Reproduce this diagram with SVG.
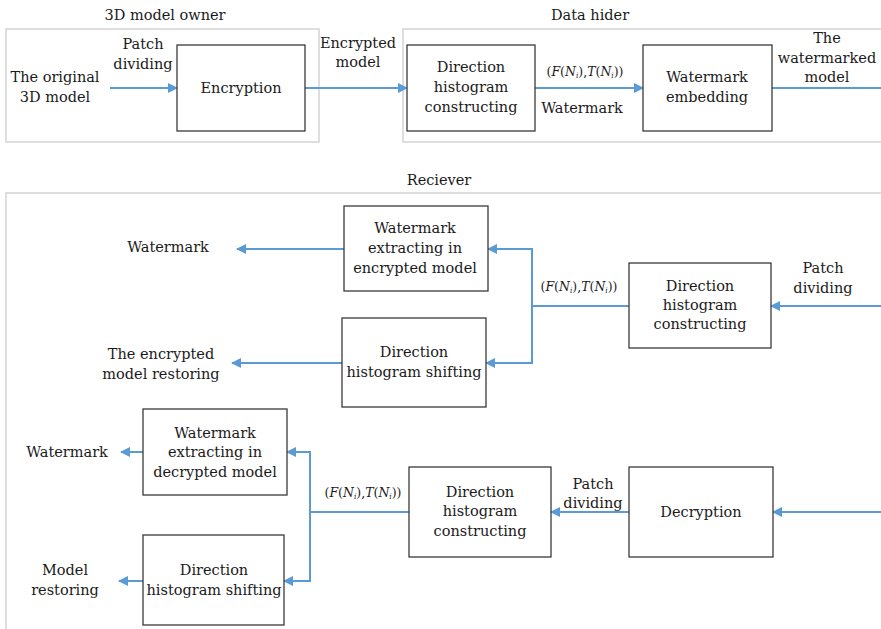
<svg xmlns="http://www.w3.org/2000/svg" width="881" height="629" viewBox="0 0 881 629" font-family="'DejaVu Serif', 'Liberation Serif', serif">
  <style>
    text { font-family: 'DejaVu Serif', 'Liberation Serif', serif; font-size: 14.5px; fill: #1a1a1a; text-anchor: middle; }
    text.math { font-size: 12.5px; }
    .it { font-style: italic; }
    .sub { font-size: 7.5px; font-style: italic; }
    .panel { fill: none; stroke: #d4d4d4; stroke-width: 1.5; }
    .box { fill: #ffffff; stroke: #3a3a3a; stroke-width: 1.3; }
    .wire { fill: none; stroke: #5b9bd5; stroke-width: 2; }
    .arrow { fill: none; stroke: #5b9bd5; stroke-width: 2; marker-end: url(#head); }
  </style>
  <defs>
    <marker id="head" viewBox="0 0 10 10" refX="9" refY="5" markerWidth="5.5" markerHeight="5" markerUnits="strokeWidth" orient="auto">
      <path d="M0,0 L10,5 L0,10 Z" fill="#5b9bd5"/>
    </marker>
  </defs>
  <rect width="881" height="629" fill="#ffffff"/>

  <!-- section panels -->
  <g id="panel-owner">
    <rect class="panel" x="6" y="29" width="313" height="113"/>
    <text x="165" y="20">3D model owner</text>
  </g>
  <g id="panel-hider">
    <rect class="panel" x="403" y="29" width="490" height="113"/>
    <text x="590" y="20">Data hider</text>
  </g>
  <g id="panel-receiver">
    <rect class="panel" x="6" y="193" width="890" height="450"/>
    <text x="439" y="185">Reciever</text>
  </g>

  <!-- connectors -->
  <g id="connectors">
    <line class="arrow" x1="110" y1="88" x2="177" y2="88"/>
    <line class="arrow" x1="305" y1="88" x2="407" y2="88"/>
    <line class="arrow" x1="535" y1="88" x2="643" y2="88"/>
    <line class="wire" x1="772" y1="88" x2="881" y2="88"/>

    <line class="arrow" x1="881" y1="306" x2="771" y2="306"/>
    <polyline class="wire" points="629,306 532,306"/>
    <polyline class="arrow" points="532,306 532,249 488,249"/>
    <polyline class="arrow" points="532,306 532,363 486,363"/>
    <line class="arrow" x1="344" y1="249" x2="237" y2="249"/>
    <line class="arrow" x1="342" y1="363" x2="232" y2="363"/>

    <line class="arrow" x1="881" y1="512" x2="773" y2="512"/>
    <line class="arrow" x1="629" y1="512" x2="551" y2="512"/>
    <polyline class="wire" points="409,512 310,512"/>
    <polyline class="arrow" points="310,512 310,452 287,452"/>
    <polyline class="arrow" points="310,512 310,581 284,581"/>
    <line class="arrow" x1="143" y1="452" x2="121" y2="452"/>
    <line class="arrow" x1="143" y1="581" x2="119" y2="581"/>
  </g>

  <!-- free labels -->
  <g id="labels">
    <text x="55" y="82">The original</text>
    <text x="55" y="102">3D model</text>
    <text x="143" y="49">Patch</text>
    <text x="143" y="69">dividing</text>
    <text x="358" y="48">Encrypted</text>
    <text x="358" y="67">model</text>
    <text class="math" x="585" y="76">(<tspan class="it">F</tspan>(<tspan class="it">N</tspan><tspan class="sub" dy="2">i</tspan><tspan dy="-2">),</tspan><tspan class="it">T</tspan>(<tspan class="it">N</tspan><tspan class="sub" dy="2">i</tspan><tspan dy="-2">))</tspan></text>
    <text x="582" y="113">Watermark</text>
    <text x="827" y="43">The</text>
    <text x="827" y="63">watermarked</text>
    <text x="827" y="82">model</text>

    <text x="823" y="273">Patch</text>
    <text x="823" y="293">dividing</text>
    <text class="math" x="579" y="291">(<tspan class="it">F</tspan>(<tspan class="it">N</tspan><tspan class="sub" dy="2">i</tspan><tspan dy="-2">),</tspan><tspan class="it">T</tspan>(<tspan class="it">N</tspan><tspan class="sub" dy="2">i</tspan><tspan dy="-2">))</tspan></text>
    <text x="168" y="252">Watermark</text>
    <text x="161" y="359">The encrypted</text>
    <text x="161" y="379">model restoring</text>

    <text x="593" y="489">Patch</text>
    <text x="593" y="508">dividing</text>
    <text class="math" x="363" y="497">(<tspan class="it">F</tspan>(<tspan class="it">N</tspan><tspan class="sub" dy="2">i</tspan><tspan dy="-2">),</tspan><tspan class="it">T</tspan>(<tspan class="it">N</tspan><tspan class="sub" dy="2">i</tspan><tspan dy="-2">))</tspan></text>
    <text x="67" y="457">Watermark</text>
    <text x="65" y="575">Model</text>
    <text x="65" y="595">restoring</text>
  </g>

  <!-- process nodes -->
  <g id="encryption">
    <rect class="box" x="177" y="45" width="128" height="86"/>
    <text x="241" y="93">Encryption</text>
  </g>
  <g id="hider-histogram">
    <rect class="box" x="407" y="45" width="128" height="86"/>
    <text x="471" y="72">Direction</text>
    <text x="471" y="92">histogram</text>
    <text x="471" y="112">constructing</text>
  </g>
  <g id="watermark-embedding">
    <rect class="box" x="643" y="45" width="129" height="86"/>
    <text x="707" y="82">Watermark</text>
    <text x="707" y="102">embedding</text>
  </g>

  <g id="extract-encrypted">
    <rect class="box" x="344" y="206" width="144" height="85"/>
    <text x="415" y="233">Watermark</text>
    <text x="415" y="253">extracting in</text>
    <text x="415" y="273">encrypted model</text>
  </g>
  <g id="shift-encrypted">
    <rect class="box" x="342" y="318" width="144" height="89"/>
    <text x="414" y="357">Direction</text>
    <text x="414" y="377">histogram shifting</text>
  </g>
  <g id="receiver-histogram">
    <rect class="box" x="629" y="263" width="142" height="85"/>
    <text x="700" y="291">Direction</text>
    <text x="700" y="310">histogram</text>
    <text x="700" y="329">constructing</text>
  </g>

  <g id="extract-decrypted">
    <rect class="box" x="143" y="409" width="144" height="86"/>
    <text x="215" y="438">Watermark</text>
    <text x="215" y="457">extracting in</text>
    <text x="215" y="477">decrypted model</text>
  </g>
  <g id="shift-decrypted">
    <rect class="box" x="143" y="535" width="141" height="90"/>
    <text x="214" y="575">Direction</text>
    <text x="214" y="595">histogram shifting</text>
  </g>
  <g id="decrypted-histogram">
    <rect class="box" x="409" y="467" width="142" height="90"/>
    <text x="480" y="497">Direction</text>
    <text x="480" y="516">histogram</text>
    <text x="480" y="536">constructing</text>
  </g>
  <g id="decryption">
    <rect class="box" x="629" y="467" width="144" height="90"/>
    <text x="701" y="517">Decryption</text>
  </g>
</svg>
